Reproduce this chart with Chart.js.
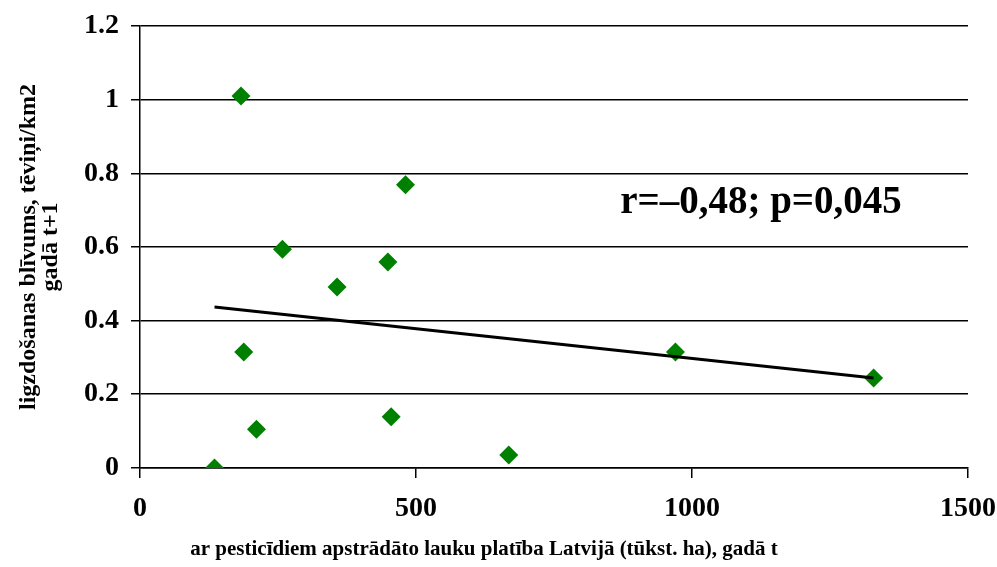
<!DOCTYPE html>
<html>
<head>
<meta charset="utf-8">
<script src="https://cdn.jsdelivr.net/npm/chart.js@4"></script>
<style>
  html, body { margin: 0; padding: 0; background: #fff; }
  #wrap { width: 997px; height: 567px; }
</style>
</head>
<body>
<div id="wrap"><canvas id="graph" width="997" height="567"></canvas></div>
<script>
// pesticide-treated area (thousand ha) in year t
var areaX = [135, 183, 188, 211, 258, 357, 449, 455, 481, 668, 970, 1329];
// nesting density, males/km2 in year t+1
var densityY = [0, 1.01, 0.315, 0.105, 0.594, 0.491, 0.559, 0.139, 0.769, 0.035, 0.315, 0.244];

// trend line end points
var trendX = [135, 1329];
var trendY = [0.437, 0.244];

var xTicks = [0, 500, 1000, 1500];
var yTicks = [0, 0.2, 0.4, 0.6, 0.8, 1, 1.2];

var statLabel = 'r=–0,48; p=0,045';
var statAt = { x: 1125, y: 0.692 };

var serif = "'Liberation Serif', 'Times New Roman', serif";

var points = areaX.map(function (x, i) { return { x: x, y: densityY[i] }; });
var trend = trendX.map(function (x, i) { return { x: x, y: trendY[i] }; });

// writes the r / p text inside the plot
var statText = {
    id: 'statText',
    afterDatasetsDraw: function (chart) {
        var ctx = chart.ctx;
        var px = chart.scales.x.getPixelForValue(statAt.x);
        var py = chart.scales.y.getPixelForValue(statAt.y);
        ctx.save();
        ctx.font = 'bold 39px ' + serif;
        ctx.fillStyle = '#000';
        ctx.textAlign = 'center';
        ctx.textBaseline = 'alphabetic';
        ctx.fillText(statLabel, px, py);
        ctx.restore();
    }
};

var chartCtx = document.getElementById('graph').getContext('2d');

var chart = new Chart(chartCtx, {
    type: 'scatter',
    data: {
        datasets: [
            {
                type: 'line',
                data: trend,
                borderColor: '#000',
                borderWidth: 3,
                pointRadius: 0,
                fill: false,
                order: 0
            },
            {
                data: points,
                pointStyle: 'rectRot',
                pointRadius: 9.5,
                pointHoverRadius: 9.5,
                backgroundColor: '#008000',
                borderColor: '#008000',
                borderWidth: 0,
                order: 1
            }
        ]
    },
    options: {
        responsive: false,
        animation: false,
        layout: { padding: { top: 26, right: 29, left: 0, bottom: 0 } },
        plugins: {
            legend: { display: false },
            tooltip: { enabled: false },
            title: {
                display: true,
                position: 'bottom',
                text: 'ar pesticīdiem apstrādāto lauku platība Latvijā (tūkst. ha), gadā t',
                color: '#000',
                font: { family: serif, size: 21, weight: 'bold', lineHeight: 1.1 },
                padding: { top: 0, bottom: 6 }
            }
        },
        scales: {
            x: {
                type: 'linear',
                min: 0,
                max: 1500,
                afterBuildTicks: function (s) { s.ticks = xTicks.map(function (v) { return { value: v }; }); },
                afterFit: function (s) { s.height = 70; s.paddingRight = 0; },
                ticks: {
                    color: '#000',
                    font: { family: serif, size: 28, weight: 'bold' },
                    padding: 14,
                    maxRotation: 0,
                    callback: function (v) { return String(v); }
                },
                grid: { drawOnChartArea: false, color: '#000', lineWidth: 1.5, tickLength: 10 },
                border: { color: '#000', width: 1.5 }
            },
            y: {
                min: 0,
                max: 1.2,
                afterBuildTicks: function (s) { s.ticks = yTicks.map(function (v) { return { value: v }; }); },
                afterFit: function (s) { s.width = 140; s.paddingTop = 0; },
                ticks: {
                    color: '#000',
                    font: { family: serif, size: 28, weight: 'bold' },
                    padding: 12,
                    callback: function (v) { return String(Math.round(v * 10) / 10); }
                },
                grid: { color: '#000', lineWidth: 1.5, tickLength: 9 },
                border: { color: '#000', width: 1.5 },
                title: {
                    display: true,
                    text: ['ligzdošanas blīvums, tēviņi/km2', 'gadā t+1'],
                    color: '#000',
                    font: { family: serif, size: 24, weight: 'bold', lineHeight: 0.95 },
                    padding: { top: 17, bottom: 0 }
                }
            }
        }
    },
    plugins: [statText]
});
</script>
</body>
</html>
